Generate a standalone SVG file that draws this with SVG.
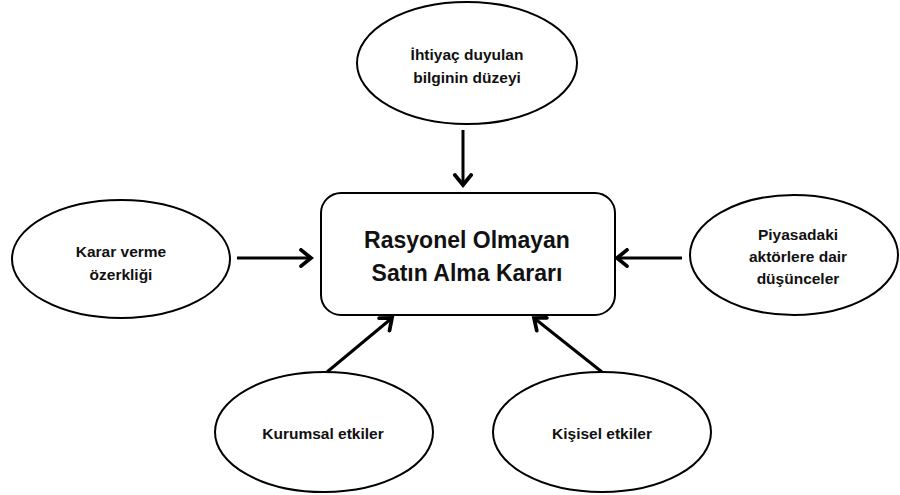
<svg xmlns="http://www.w3.org/2000/svg" width="900" height="495" viewBox="0 0 900 495">
<style>
.node{fill:#fff;stroke:#000;stroke-width:2}
.t{font-family:"Liberation Sans",Arial,sans-serif;font-weight:bold;fill:#111;text-anchor:middle}
.s{font-size:15.5px}
.b{font-size:23px}
.c{stroke:#000;stroke-width:3;fill:none;marker-end:url(#ah)}
</style>
<defs>
<marker id="ah" markerUnits="userSpaceOnUse" markerWidth="20" markerHeight="20" viewBox="-12 -8 14 16" refX="0" refY="0" orient="auto">
<path d="M-8,-6.5 L0,0 L-8,6.5" fill="none" stroke="#000" stroke-width="3" stroke-linecap="round" stroke-linejoin="miter"/>
</marker>
</defs>
<rect width="900" height="495" fill="#fff"/>
<g id="connectors">
<line class="c" x1="463" y1="130" x2="463" y2="185"/>
<line class="c" x1="237" y1="258" x2="311" y2="258"/>
<line class="c" x1="682" y1="258" x2="617" y2="258"/>
<line class="c" x1="327" y1="372" x2="392" y2="318"/>
<line class="c" x1="602" y1="372" x2="534" y2="318"/>
</g>
<g id="center">
<rect class="node" x="321" y="193" width="294" height="122" rx="20"/>
<text class="t b" x="467" y="248">Rasyonel Olmayan</text>
<text class="t b" x="467" y="281">Satın Alma Kararı</text>
</g>
<g id="top">
<ellipse class="node" cx="467" cy="63" rx="110" ry="61"/>
<text class="t s" x="467" y="60">İhtiyaç duyulan</text>
<text class="t s" x="467" y="83">bilginin düzeyi</text>
</g>
<g id="left">
<ellipse class="node" cx="121" cy="259" rx="109" ry="59"/>
<text class="t s" x="121" y="257">Karar verme</text>
<text class="t s" x="121" y="280">özerkliği</text>
</g>
<g id="right">
<ellipse class="node" cx="794" cy="255" rx="104" ry="60"/>
<text class="t s" x="798" y="240">Piyasadaki</text>
<text class="t s" x="798" y="262">aktörlere dair</text>
<text class="t s" x="798" y="284">düşünceler</text>
</g>
<g id="bottomleft">
<ellipse class="node" cx="324" cy="432" rx="109" ry="60"/>
<text class="t s" x="323" y="439">Kurumsal etkiler</text>
</g>
<g id="bottomright">
<ellipse class="node" cx="602" cy="432" rx="109" ry="60"/>
<text class="t s" x="602" y="439">Kişisel etkiler</text>
</g>
</svg>
